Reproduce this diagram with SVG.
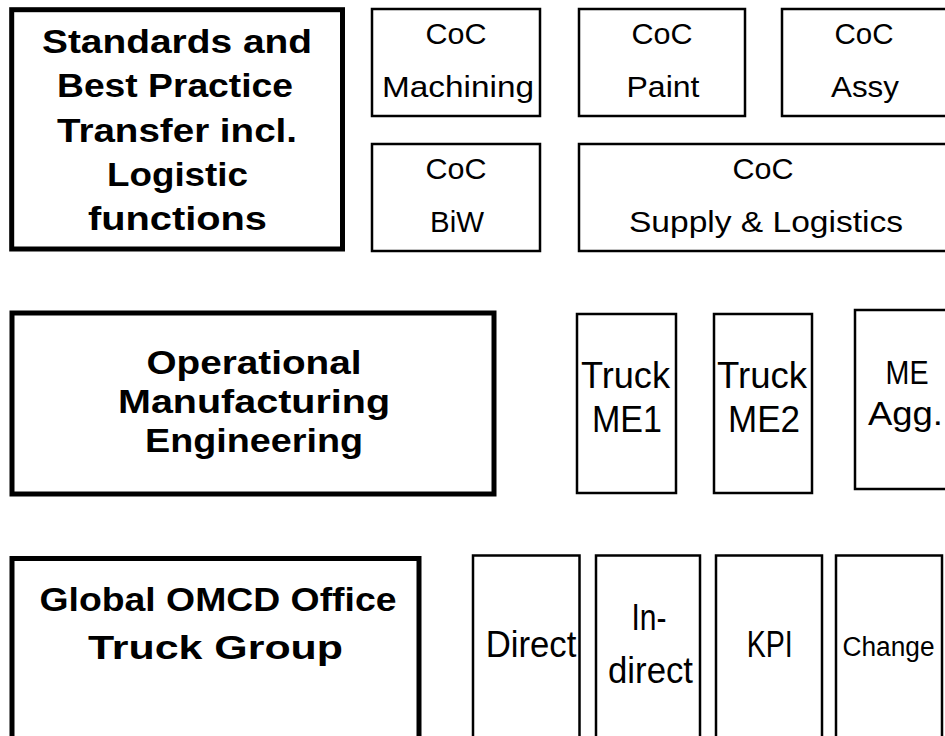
<svg xmlns="http://www.w3.org/2000/svg" width="945" height="736" viewBox="0 0 945 736">
<style>
.big{fill:#fff;stroke:#000;stroke-width:5}
.sm{fill:#fff;stroke:#000;stroke-width:2.5}
.tb{font-family:"Liberation Sans",Arial,sans-serif;font-weight:bold;font-size:34px;text-anchor:middle;fill:#000}
.tr{font-family:"Liberation Sans",Arial,sans-serif;font-size:30px;text-anchor:middle;fill:#000}
.tl{font-family:"Liberation Sans",Arial,sans-serif;font-size:36px;text-anchor:middle;fill:#000}
</style>
<rect width="945" height="736" fill="#fff"/>
<g id="connectors"/>
<g id="standards">
<rect class="big" x="11.7" y="9.7" width="330.8" height="239.3"/>
<text class="tb" x="177" y="53" textLength="270" lengthAdjust="spacingAndGlyphs">Standards and</text>
<text class="tb" x="175" y="97" textLength="236" lengthAdjust="spacingAndGlyphs">Best Practice</text>
<text class="tb" x="177" y="142" textLength="240" lengthAdjust="spacingAndGlyphs">Transfer incl.</text>
<text class="tb" x="177.5" y="186" textLength="141" lengthAdjust="spacingAndGlyphs">Logistic</text>
<text class="tb" x="177.5" y="230" textLength="179" lengthAdjust="spacingAndGlyphs">functions</text>
</g>
<g id="coc-machining">
<rect class="sm" x="372" y="9" width="168" height="107"/>
<text class="tr" x="456" y="44" textLength="61" lengthAdjust="spacingAndGlyphs">CoC</text>
<text class="tr" x="458" y="97" textLength="152" lengthAdjust="spacingAndGlyphs">Machining</text>
</g>
<g id="coc-paint">
<rect class="sm" x="579" y="9" width="166" height="107"/>
<text class="tr" x="662" y="44" textLength="61" lengthAdjust="spacingAndGlyphs">CoC</text>
<text class="tr" x="663" y="97" textLength="73" lengthAdjust="spacingAndGlyphs">Paint</text>
</g>
<g id="coc-assy">
<rect class="sm" x="782" y="9" width="166" height="107"/>
<text class="tr" x="864" y="44" textLength="59" lengthAdjust="spacingAndGlyphs">CoC</text>
<text class="tr" x="865" y="97" textLength="68" lengthAdjust="spacingAndGlyphs">Assy</text>
</g>
<g id="coc-biw">
<rect class="sm" x="372" y="144" width="168" height="107"/>
<text class="tr" x="456" y="179" textLength="61" lengthAdjust="spacingAndGlyphs">CoC</text>
<text class="tr" x="457" y="232" textLength="54" lengthAdjust="spacingAndGlyphs">BiW</text>
</g>
<g id="coc-supply">
<rect class="sm" x="579" y="144" width="369" height="107"/>
<text class="tr" x="763" y="179" textLength="61" lengthAdjust="spacingAndGlyphs">CoC</text>
<text class="tr" x="766" y="232" textLength="274" lengthAdjust="spacingAndGlyphs">Supply &amp; Logistics</text>
</g>
<g id="operational">
<rect class="big" x="12" y="313" width="482" height="181"/>
<text class="tb" x="254" y="374" textLength="215" lengthAdjust="spacingAndGlyphs">Operational</text>
<text class="tb" x="254" y="413" textLength="272" lengthAdjust="spacingAndGlyphs">Manufacturing</text>
<text class="tb" x="254" y="452" textLength="218" lengthAdjust="spacingAndGlyphs">Engineering</text>
</g>
<g id="truck-me1">
<rect class="sm" x="577" y="314" width="99" height="179"/>
<text class="tl" x="625.5" y="388" textLength="89" lengthAdjust="spacingAndGlyphs">Truck</text>
<text class="tl" x="627" y="432" textLength="70" lengthAdjust="spacingAndGlyphs">ME1</text>
</g>
<g id="truck-me2">
<rect class="sm" x="714" y="314" width="98" height="179"/>
<text class="tl" x="762" y="388" textLength="90" lengthAdjust="spacingAndGlyphs">Truck</text>
<text class="tl" x="764" y="432" textLength="72" lengthAdjust="spacingAndGlyphs">ME2</text>
</g>
<g id="me-agg">
<rect class="sm" x="855" y="310" width="100" height="179"/>
<text class="tl" x="907" y="384" style="font-size:34px" textLength="43" lengthAdjust="spacingAndGlyphs">ME</text>
<text class="tl" x="905.5" y="425" style="font-size:34px" textLength="75" lengthAdjust="spacingAndGlyphs">Agg.</text>
</g>
<g id="global-omcd">
<rect class="big" x="12" y="558.5" width="407" height="200"/>
<text class="tb" x="218" y="611" style="font-size:33px" textLength="357" lengthAdjust="spacingAndGlyphs">Global OMCD Office</text>
<text class="tb" x="215.5" y="659" style="font-size:33px" textLength="255" lengthAdjust="spacingAndGlyphs">Truck Group</text>
</g>
<g id="direct">
<rect class="sm" x="473" y="555.5" width="106.5" height="200"/>
<text class="tl" x="531" y="657" textLength="90.7" lengthAdjust="spacingAndGlyphs">Direct</text>
</g>
<g id="indirect">
<rect class="sm" x="596" y="555.5" width="104" height="200"/>
<text class="tl" x="649" y="630" textLength="35" lengthAdjust="spacingAndGlyphs">In-</text>
<text class="tl" x="650.5" y="683" textLength="85" lengthAdjust="spacingAndGlyphs">direct</text>
</g>
<g id="kpi">
<rect class="sm" x="716" y="555.5" width="106" height="200"/>
<text class="tl" x="769.7" y="657" textLength="46" lengthAdjust="spacingAndGlyphs">KPI</text>
</g>
<g id="change">
<rect class="sm" x="836" y="555.5" width="106" height="200"/>
<text class="tl" x="888.5" y="656" style="font-size:27px" textLength="92" lengthAdjust="spacingAndGlyphs">Change</text>
</g>
</svg>
